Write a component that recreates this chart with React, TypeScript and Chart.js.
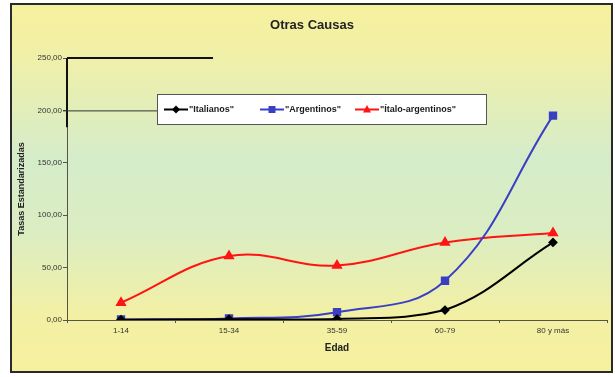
import React, { useEffect, useRef } from "react";
import { Chart, registerables } from "chart.js";

Chart.register(...registerables);

const ageGroups = ["1-14", "15-34", "35-59", "60-79", "80 y más"];
const italianos = [0.3, 0.8, 1.0, 9.5, 74];
const argentinos = [0.5, 1.5, 7.5, 37.5, 195];
const italoArgentinos = [16.5, 61, 52, 74, 83];
const seriesLabels = ['"Italianos"', '"Argentinos"', '"Ítalo-argentinos"'];
const yTicks = [0, 50, 100, 150, 200, 250];

const FONT = "'Liberation Sans', Arial, Helvetica, sans-serif";

// Background frame, title, legend box and the black bracket lines on the value axis
const decorPlugin = {
  id: "decor",
  beforeDraw(chart: any) {
    const { ctx, width, height } = chart;
    ctx.save();
    ctx.fillStyle = "#ffffff";
    ctx.fillRect(0, 0, width, height);
    const fx = 11, fy = 4, fw = 601, fh = 368;
    const g = ctx.createLinearGradient(0, fy, 0, fy + fh);
    g.addColorStop(0, "#f6f19e");
    g.addColorStop(0.12, "#f2f0a6");
    g.addColorStop(0.42, "#d5ecca");
    g.addColorStop(0.62, "#dbedc2");
    g.addColorStop(0.85, "#f3f0a4");
    g.addColorStop(1, "#f6f19e");
    ctx.fillStyle = g;
    ctx.fillRect(fx, fy, fw, fh);
    ctx.strokeStyle = "#2a2a2a";
    ctx.lineWidth = 2;
    ctx.strokeRect(fx, fy, fw, fh);

    ctx.fillStyle = "#222222";
    ctx.font = `bold 13px ${FONT}`;
    ctx.textAlign = "center";
    ctx.textBaseline = "middle";
    ctx.fillText("Otras Causas", 312, 25);
    ctx.restore();
  },
  afterDraw(chart: any) {
    const { ctx, chartArea } = chart;
    const y = chart.scales.y;
    const left = chartArea.left;
    ctx.save();
    // bracket lines on the value axis
    ctx.strokeStyle = "#111111";
    ctx.lineWidth = 2;
    ctx.beginPath();
    ctx.moveTo(left, y.getPixelForValue(250));
    ctx.lineTo(left + 146, y.getPixelForValue(250));
    ctx.moveTo(left, y.getPixelForValue(250));
    ctx.lineTo(left, y.getPixelForValue(184));
    ctx.stroke();
    ctx.lineWidth = 1;
    ctx.strokeStyle = "#333333";
    ctx.beginPath();
    ctx.moveTo(left - 4, y.getPixelForValue(200) + 0.5);
    ctx.lineTo(157, y.getPixelForValue(200) + 0.5);
    ctx.stroke();

    // legend box
    const bx = 157, by = 94, bw = 329, bh = 30;
    ctx.fillStyle = "#ffffff";
    ctx.fillRect(bx, by, bw, bh);
    ctx.strokeStyle = "#555555";
    ctx.lineWidth = 1;
    ctx.strokeRect(bx + 0.5, by + 0.5, bw, bh);
    const cy = by + bh / 2 + 0.5;
    const starts = [164, 260, 355];
    chart.data.datasets.forEach((ds: any, i: number) => {
      const x0 = starts[i];
      ctx.strokeStyle = ds.borderColor;
      ctx.lineWidth = 2;
      ctx.beginPath();
      ctx.moveTo(x0, cy);
      ctx.lineTo(x0 + 24, cy);
      ctx.stroke();
      const mx = x0 + 12;
      ctx.fillStyle = ds.borderColor;
      ctx.beginPath();
      if (ds.pointStyle === "rect") {
        ctx.rect(mx - 3.5, cy - 3.5, 7, 7);
      } else if (ds.pointStyle === "rectRot") {
        ctx.moveTo(mx, cy - 4);
        ctx.lineTo(mx + 4, cy);
        ctx.lineTo(mx, cy + 4);
        ctx.lineTo(mx - 4, cy);
        ctx.closePath();
      } else {
        ctx.moveTo(mx, cy - 4.5);
        ctx.lineTo(mx + 4, cy + 3);
        ctx.lineTo(mx - 4, cy + 3);
        ctx.closePath();
      }
      ctx.fill();
      ctx.fillStyle = "#1a1a1a";
      ctx.font = `bold 9px ${FONT}`;
      ctx.textAlign = "left";
      ctx.textBaseline = "middle";
      ctx.fillText(ds.label, x0 + 25, cy);
    });
    ctx.restore();
  },
};

export default function App() {
  const canvasRef = useRef<HTMLCanvasElement | null>(null);

  useEffect(() => {
    if (!canvasRef.current) return;
    const chart = new Chart(canvasRef.current, {
      type: "line",
      data: {
        labels: ageGroups,
        datasets: [
          {
            label: seriesLabels[0],
            data: italianos,
            borderColor: "#000000",
            backgroundColor: "#000000",
            pointStyle: "rectRot",
            pointRadius: 3.5,
            borderWidth: 2,
            tension: 0.4,
          },
          {
            label: seriesLabels[1],
            data: argentinos,
            borderColor: "#3b3fc4",
            backgroundColor: "#3b3fc4",
            pointStyle: "rect",
            pointRadius: 4.5,
            borderWidth: 2,
            tension: 0.4,
          },
          {
            label: seriesLabels[2],
            data: italoArgentinos,
            borderColor: "#ff1414",
            backgroundColor: "#ff1414",
            pointStyle: "triangle",
            pointRadius: 4.5,
            borderWidth: 2,
            tension: 0.4,
          },
        ],
      },
      options: {
        animation: false,
        responsive: false,
        devicePixelRatio: 1,
        layout: { padding: { left: 13, right: 8, top: 58, bottom: 10 } },
        plugins: {
          legend: { display: false },
          title: { display: false },
          tooltip: { enabled: false },
        },
        scales: {
          x: {
            type: "category",
            offset: true,
            grid: {
              display: true,
              drawOnChartArea: false,
              drawTicks: true,
              tickLength: 3,
              color: "#555555",
              offset: true,
            },
            border: { display: true, color: "#555544", width: 1 },
            ticks: {
              color: "#333333",
              font: { family: FONT, size: 8 },
              padding: 3,
              maxRotation: 0,
            },
            title: {
              display: true,
              text: "Edad",
              color: "#222222",
              font: { family: FONT, size: 10, weight: "bold" },
              padding: { top: 0, bottom: 13 },
            },
            afterFit(scale: any) {
              scale.height = 47;
            },
          },
          y: {
            min: 0,
            max: 250,
            afterBuildTicks(scale: any) {
              scale.ticks = yTicks.map((v) => ({ value: v }));
            },
            grid: {
              display: true,
              drawOnChartArea: false,
              drawTicks: true,
              tickLength: 4,
              color: "#555555",
            },
            border: { display: true, color: "#555544", width: 1 },
            ticks: {
              color: "#333333",
              font: { family: FONT, size: 8 },
              padding: 1,
              callback: (v: any) => Number(v).toFixed(2).replace(".", ","),
            },
            title: {
              display: true,
              text: "Tasas Estandarizadas",
              color: "#222222",
              font: { family: FONT, size: 9, weight: "bold" },
              padding: { top: 3.5, bottom: 0 },
            },
            afterFit(scale: any) {
              scale.width = 54;
            },
          },
        },
      },
      plugins: [decorPlugin],
    });
    return () => chart.destroy();
  }, []);

  return (
    <div style={{ position: "absolute", left: 0, top: 0, width: 615, height: 377 }}>
      <canvas ref={canvasRef} width={615} height={377} />
    </div>
  );
}
